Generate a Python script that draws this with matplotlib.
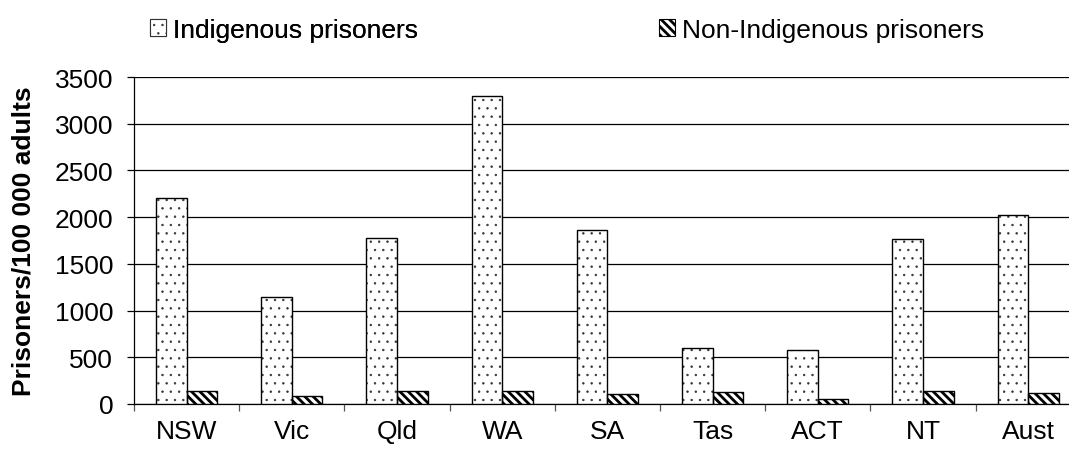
import matplotlib
matplotlib.use("Agg")
import matplotlib.pyplot as plt
import matplotlib.patches as mpatches
import numpy as np

categories = ["NSW", "Vic", "Qld", "WA", "SA", "Tas", "ACT", "NT", "Aust"]
indigenous = [2200, 1150, 1775, 3295, 1860, 595, 575, 1765, 2025]
non_indigenous = [135, 85, 135, 135, 105, 125, 50, 135, 118]
y_ticks = [0, 500, 1000, 1500, 2000, 2500, 3000, 3500]

plt.rcParams['font.family'] = ['Liberation Sans', 'DejaVu Sans']
FS = 19

W, H = 1069, 456
fig = plt.figure(figsize=(W / 100, H / 100), dpi=100)
ax = fig.add_axes([134 / W, (H - 405) / H, (9 * 105.2) / W, (405 - 78) / H])

x = np.arange(len(categories))
bw = 0.29
DOT_LW = 0.5
STRIPE_LW = 2.0


def set_hlw(artists, lw):
    for a in artists:
        if hasattr(a, 'set_hatch_linewidth'):
            a.set_hatch_linewidth(lw)


with plt.rc_context({'hatch.linewidth': DOT_LW}):
    dots = ax.bar(x - bw / 2, indigenous, bw, facecolor='white', edgecolor='#333333',
                  hatch='..', linewidth=0, zorder=3)
    set_hlw(dots, DOT_LW)
ax.bar(x - bw / 2, indigenous, bw, fill=False, edgecolor='black', linewidth=1.0, zorder=4)

with plt.rc_context({'hatch.linewidth': STRIPE_LW}):
    stripes = ax.bar(x + bw / 2, non_indigenous, bw, facecolor='white', edgecolor='black',
                     hatch='\\\\\\\\', linewidth=1.0, zorder=3)
    set_hlw(stripes, STRIPE_LW)

ax.set_xlim(-0.5, len(categories) - 0.5)
ax.set_ylim(0, 3500)
ax.set_yticks(y_ticks)
ax.yaxis.grid(True, color='black', linewidth=0.9, zorder=0)
ax.set_axisbelow(True)
for s in ['top', 'right']:
    ax.spines[s].set_visible(False)
ax.spines['left'].set_linewidth(0.9)
ax.spines['bottom'].set_linewidth(0.9)

ax.set_xticks(x)
ax.set_xticklabels(categories, fontsize=FS)
ax.tick_params(axis='x', which='major', length=0, pad=11)
ax.set_xticks(np.arange(len(categories) + 1) - 0.5, minor=True)
ax.tick_params(axis='x', which='minor', length=5, width=0.9, color='#555555', direction='out')
ax.tick_params(axis='y', labelsize=FS, length=5, width=0.9, pad=10, direction='out')

fig.text(24 / W, 1 - 241.5 / H, 'Prisoners/100 000 adults', rotation=90,
         ha='center', va='center', fontsize=FS, fontweight='bold')

common = dict(loc='center left', frameon=False, fontsize=FS, handlelength=0.62,
              handleheight=0.62, handletextpad=0.27, borderpad=0, borderaxespad=0)

with plt.rc_context({'hatch.linewidth': DOT_LW}):
    h1 = mpatches.Patch(facecolor='white', edgecolor='#333333', hatch='..', linewidth=0.8,
                        label='Indigenous prisoners')
    set_hlw([h1], DOT_LW)
    leg1 = fig.legend(handles=[h1], bbox_to_anchor=(150 / W, 1 - 31 / H), **common)
    for p in leg1.get_patches():
        set_hlw([p], DOT_LW)
fig.add_artist(leg1)

with plt.rc_context({'hatch.linewidth': STRIPE_LW}):
    h2 = mpatches.Patch(facecolor='white', edgecolor='black', hatch='\\\\\\\\', linewidth=0.8,
                        label='Non-Indigenous prisoners')
    set_hlw([h2], STRIPE_LW)
    leg2 = fig.legend(handles=[h2], bbox_to_anchor=(659 / W, 1 - 31 / H), **common)
    for p in leg2.get_patches():
        set_hlw([p], STRIPE_LW)

fig.savefig('out.png', dpi=100)
